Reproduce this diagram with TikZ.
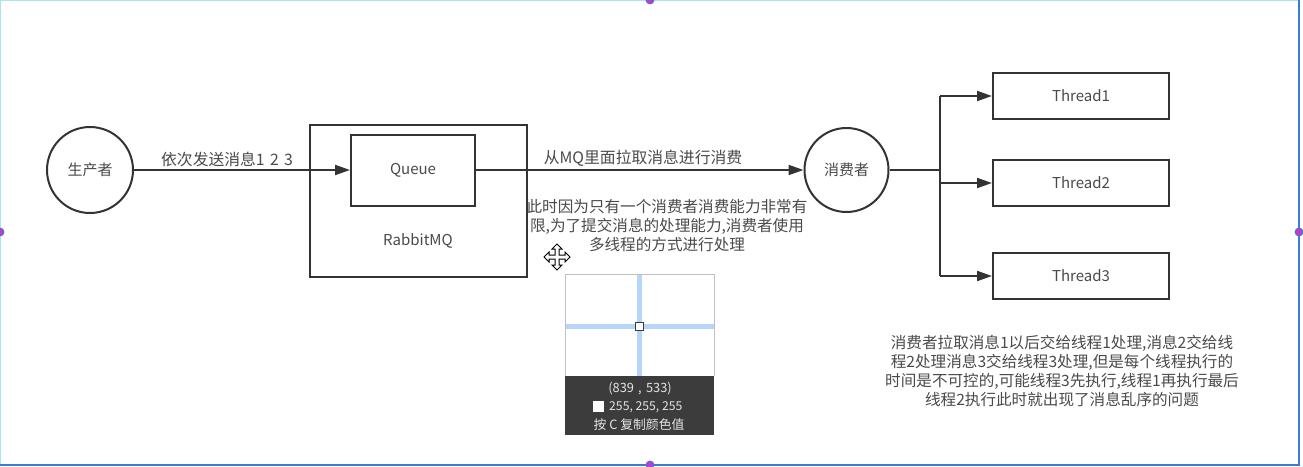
\documentclass[tikz,border=0pt]{standalone}
\usepackage{fontspec}
\setmainfont{Noto Sans CJK SC}
\usetikzlibrary{arrows.meta}
\definecolor{ink}{HTML}{333333}
\definecolor{txt}{HTML}{4A4A4A}
\definecolor{frameblue}{HTML}{3A7BD5}
\definecolor{framecyan}{HTML}{A8E4F2}
\definecolor{handle}{HTML}{C03CC8}
\definecolor{pickdark}{HTML}{3C3C3C}
\definecolor{pickblue}{HTML}{B5D5FA}
\tikzset{
  circ/.style={circle,draw=ink,line width=2pt,minimum size=86pt,inner sep=0pt,text=txt,font=\fontsize{15}{17}\selectfont},
  box/.style={rectangle,draw=ink,line width=2pt,inner sep=0pt,text=txt,font=\fontsize{15}{17}\selectfont},
  arr/.style={draw=ink,line width=2pt,-{Triangle[length=15pt,width=10pt]}},
  conn/.style={draw=ink,line width=2pt},
  lbl/.style={text=txt,inner sep=0pt,font=\fontsize{15.8}{18}\selectfont},
  note/.style={text=txt,inner sep=0pt,align=center,font=\fontsize{15.6}{19}\selectfont},
  picktxt/.style={text=white!90!black,inner sep=0pt,font=\fontsize{12.8}{14}\selectfont},
  hdl/.style={circle,fill=handle,draw=frameblue,line width=0.8pt,minimum size=8pt,inner sep=0pt}
}
\begin{document}
\begin{tikzpicture}[x=1pt,y=-1pt]
\useasboundingbox (0,0) rectangle (1303,466);
\fill[white] (0,0) rectangle (1303,466);
% frame of the canvas
\draw[framecyan,line width=1pt] (0.5,466) -- (0.5,0.5) -- (1299,0.5);
\draw[frameblue,line width=2pt] (1299,0) -- (1299,465) -- (0,465);
\node[hdl] (h1) at (650,0) {};
\node[hdl] (h2) at (0,232) {};
\node[hdl] (h3) at (1299,232) {};
\node[hdl] (h4) at (650,465) {};

% producer
\node[circ] (prod) at (90,170) {生产者};
% RabbitMQ
\node[box,minimum width=217pt,minimum height=152pt] (mq) at (418.5,201) {};
\node[box,minimum width=124pt,minimum height=71pt] (queue) at (413,170) {Queue};
\node[lbl,font=\fontsize{15}{17}\selectfont] (mqlbl) at (418,241) {RabbitMQ};
% consumer
\node[circ,minimum size=84pt] (cons) at (846.5,170) {消费者};
% threads
\node[box,minimum width=176pt,minimum height=46pt] (t1) at (1081,96) {Thread1};
\node[box,minimum width=176pt,minimum height=46pt] (t2) at (1081,183) {Thread2};
\node[box,minimum width=176pt,minimum height=46pt] (t3) at (1081,276) {Thread3};

% connectors
\draw[arr] (prod) -- (queue);
\node[lbl] (l1) at (227,159) {依次发送消息1\,\,2\,\,3};
\draw[arr] (queue) -- (cons);
\node[lbl] (l2) at (643,158) {从MQ里面拉取消息进行消费};
\coordinate (br) at (940,170);
\draw[conn] (cons) -- (br);
\draw[conn] (br |- t1) -- (br |- t3);
\draw[arr] (br |- t1) -- (t1);
\draw[arr] (br |- t2) -- (t2);
\draw[arr] (br |- t3) -- (t3);

% notes
\node[note] (n1) at (667,226) {此时因为只有一个消费者消费能力非常有\\限,为了提交消息的处理能力,消费者使用\\多线程的方式进行处理};
\node[note] (n2) at (1062,371) {消费者拉取消息1以后交给线程1处理,消息2交给线\\程2处理消息3交给线程3处理,但是每个线程执行的\\时间是不可控的,可能线程3先执行,线程1再执行最后\\线程2执行此时就出现了消息乱序的问题};

% move cursor
\begin{scope}[shift={(557,257)}]
\filldraw[fill=white,draw=black,line width=1pt,line join=miter]
 (0,-13) -- (5,-8) -- (2,-8) -- (2,-2) -- (8,-2) -- (8,-5) -- (13,0) -- (8,5) -- (8,2) -- (2,2)
 -- (2,8) -- (5,8) -- (0,13) -- (-5,8) -- (-2,8) -- (-2,2) -- (-8,2) -- (-8,5) -- (-13,0)
 -- (-8,-5) -- (-8,-2) -- (-2,-2) -- (-2,-8) -- (-5,-8) -- cycle;
\end{scope}

% colour picker
\fill[white] (565,274) rectangle (714,376);
\fill[pickblue] (637,274) rectangle (642,376);
\fill[pickblue] (565,323.5) rectangle (714,328.5);
\draw[black!25,line width=1pt] (565,376) -- (565,274) -- (714,274) -- (714,376);
\fill[pickdark] (565,376) rectangle (714,435);
\filldraw[fill=white,draw=pickdark,line width=1pt] (635.5,322) rectangle (643.5,330);
\node[picktxt] (p1) at (640,389) {(839\,\,,\,\,533)};
\fill[white] (593,401) rectangle (604,412);
\node[picktxt,anchor=west,font=\fontsize{12.2}{14}\selectfont] (p2) at (609,407) {255, 255, 255};
\node[picktxt] (p3) at (639,425) {按 C 复制颜色值};
\end{tikzpicture}
\end{document}
